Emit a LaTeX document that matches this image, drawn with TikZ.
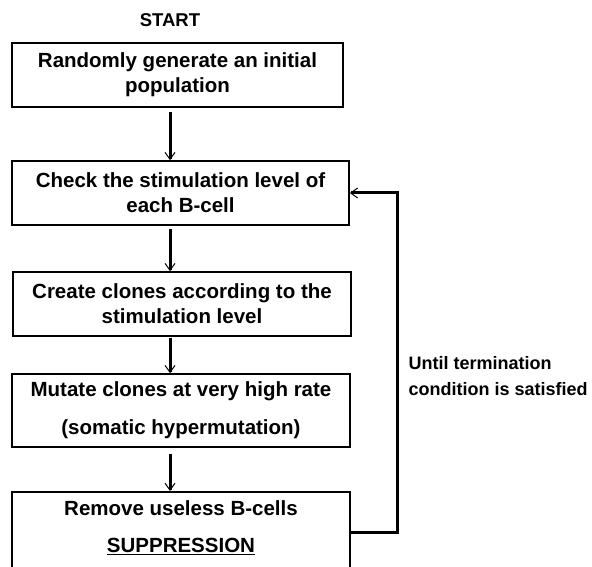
\documentclass[tikz,border=0pt]{standalone}
\usepackage{fontspec}
\setmainfont{Liberation Sans}
\usetikzlibrary{arrows, arrows.meta}
\usetikzlibrary{calc}

\begin{document}
\begin{tikzpicture}[x=1pt, y=-1pt,
    box/.style={draw, line width=1.6pt, inner sep=0pt, align=center, font=\bfseries\fontsize{20.5}{25}\selectfont},
    flow/.style={line width=3pt, -{Straight Barb[length=7pt, width=10pt, line width=1pt]}}]
      \useasboundingbox (0,0) rectangle (592,567);
      \clip (0,0) rectangle (592,567);

      \node[font=\bfseries\fontsize{18.5}{22}\selectfont] (start) at (170, 20) {START};
      \node[box, minimum width=331pt, minimum height=64pt] (1) at (177.5, 75) {Randomly generate an initial\\population};
      \node[box, minimum width=337pt, minimum height=64pt] (2) at (180.5, 193) {Check the stimulation level of\\each B-cell};
      \node[box, minimum width=338pt, minimum height=64pt] (3) at (182, 304) {Create clones according to the\\stimulation level};
      \node[box, minimum width=338pt, minimum height=73pt, font=\bfseries\fontsize{20.5}{38}\selectfont] (4) at (181, 410.5) {Mutate clones at very high rate\\(somatic hypermutation)};
      \node[box, minimum width=338pt, anchor=north, text height=61pt, text depth=40pt, font=\bfseries\fontsize{20.5}{37}\selectfont] (5) at (181, 491) {Remove useless B-cells\\\underline{SUPPRESSION}};
      \node[anchor=west, align=left, font=\bfseries\fontsize{18}{26}\selectfont] (until) at (405, 376) {Until termination\\condition is satisfied};

      \draw[flow, shorten <=4pt] (1.south -| start) -- (2.north -| start);
      \draw[flow, shorten <=3pt] (2.south -| start) -- (3.north -| start);
      \draw[flow, shorten <=1pt] (3.south -| start) -- (4.north -| start);
      \draw[flow, shorten <=6pt] (4.south -| start) -- (5.north -| start);
      \draw[flow] ($(5.north east)+(0,41)$) -| (397,193) -- (2.east);
    \end{tikzpicture}
\end{document}
